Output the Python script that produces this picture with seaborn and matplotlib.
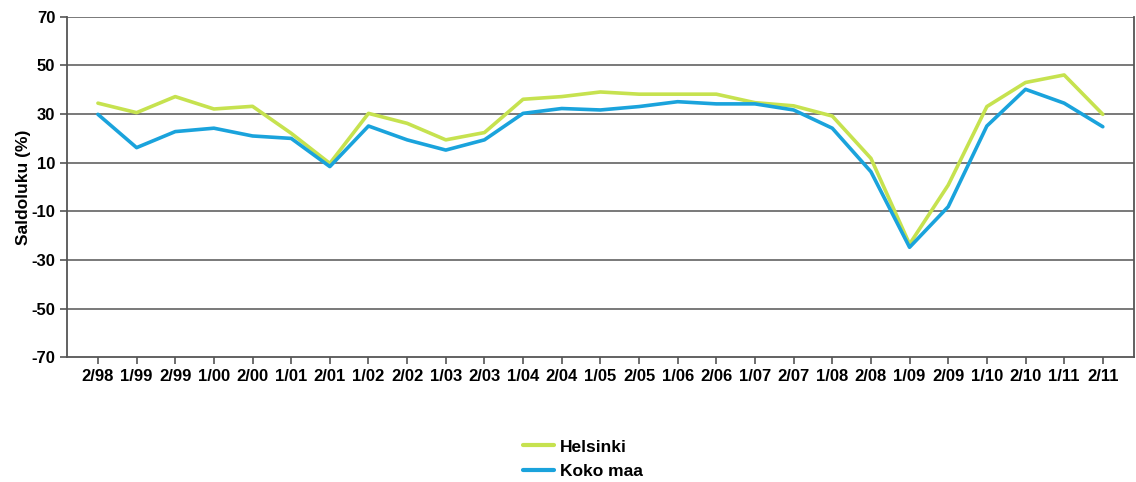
import pandas as pd
import matplotlib.pyplot as plt
import seaborn as sns

# Kvartaalit ja saldoluvut
kaudet = ["2/98", "1/99", "2/99", "1/00", "2/00", "1/01", "2/01", "1/02", "2/02",
          "1/03", "2/03", "1/04", "2/04", "1/05", "2/05", "1/06", "2/06", "1/07",
          "2/07", "1/08", "2/08", "1/09", "2/09", "1/10", "2/10", "1/11", "2/11"]
helsinki = [34.5, 30.6, 37.2, 32.1, 33.2, 22.1, 9.7, 30.3, 26.2, 19.4, 22.4, 36.1,
            37.2, 39.1, 38.2, 38.2, 38.2, 34.7, 33.4, 29.2, 11.8, -23.5, 0.8, 33.1,
            43.0, 46.1, 29.9]
koko_maa = [29.9, 16.2, 22.8, 24.2, 21.0, 20.0, 8.4, 25.1, 19.4, 15.2, 19.4, 30.3,
            32.3, 31.7, 33.1, 35.1, 34.2, 34.2, 31.7, 24.2, 6.3, -24.8, -8.1, 25.1,
            40.2, 34.5, 24.8]
sarjat = ["Helsinki", "Koko maa"]
varit = ["#c6e24f", "#1aa3dc"]

df = pd.DataFrame({"kausi": kaudet * 2,
                   "arvo": helsinki + koko_maa,
                   "sarja": [sarjat[0]] * len(kaudet) + [sarjat[1]] * len(kaudet)})

sns.set_style("ticks")
plt.rcParams['font.family'] = ['Liberation Sans', 'DejaVu Sans']
plt.rcParams['font.weight'] = 'bold'
plt.rcParams['axes.unicode_minus'] = False
plt.rcParams['text.color'] = 'black'
plt.rcParams['xtick.labelcolor'] = 'black'
plt.rcParams['ytick.labelcolor'] = 'black'
plt.rcParams['axes.labelcolor'] = 'black'

fig = plt.figure(figsize=(11.36, 4.82), dpi=100)
ax = fig.add_axes([0.059, 0.259, 0.939, 0.706])

# Vaakaviivat
for y in range(-50, 71, 20):
    ax.axhline(y, color="#6e6e6e", lw=1.3, zorder=0)

sns.lineplot(data=df, x="kausi", y="arvo", hue="sarja", palette=varit,
             linewidth=2.6, ax=ax, legend=False, sort=False)

ax.set_xlim(-0.8, 26.8)
ax.set_ylim(-70, 70)
ax.set_yticks(range(-70, 71, 20))
ax.set_ylabel("Saldoluku (%)", fontsize=12.5, fontweight="bold", labelpad=0)
ax.set_xlabel("")
ax.tick_params(axis="both", labelsize=12, length=5, width=1.2, color="#555555")
for lbl in ax.get_xticklabels() + ax.get_yticklabels():
    lbl.set_fontweight("bold")
for s in ["left", "bottom", "right"]:
    ax.spines[s].set_color("#555555")
    ax.spines[s].set_linewidth(1.3)
ax.spines["top"].set_visible(False)

handles = [plt.Line2D([], [], color=c, lw=3) for c in varit]
fig.legend(handles, sarjat, loc="center", bbox_to_anchor=(0.513, 0.047),
           frameon=False, ncol=1, handlelength=1.8,
           handletextpad=0.3, labelspacing=0.55, prop={"weight": "bold", "size": 12.5})

fig.savefig("out.png", dpi=100)
